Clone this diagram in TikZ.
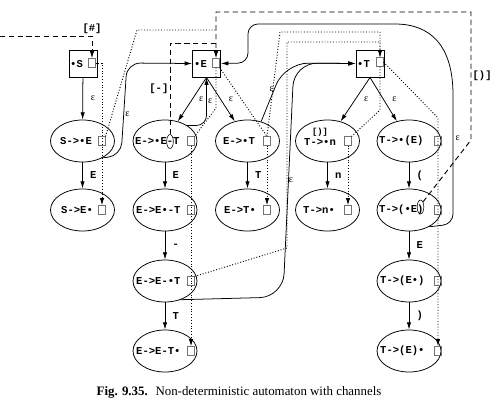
\documentclass[tikz,border=0pt]{standalone}
\usepackage{fontspec}
\setmainfont{Liberation Serif}
\setmonofont{Liberation Mono}
\usepackage{tikz}
\usetikzlibrary{arrows.meta,positioning,calc,shapes.geometric}

\begin{document}
\begin{tikzpicture}[x=0.3mm,y=-0.3mm,>={Latex[length=2.2mm,width=1.3mm]},
  trans/.style={->,line width=0.65pt},
  flow/.style={line width=0.8pt,dash pattern=on 0.8pt off 1.6pt},
  look/.style={line width=0.8pt,dash pattern=on 4.5pt off 3pt},
  box/.style={draw,line width=0.8pt,minimum width=8.4mm,minimum height=8.1mm,inner sep=0pt},
  item/.style={ellipse,draw,line width=0.65pt,minimum width=19.2mm,minimum height=12.6mm,inner sep=0pt},
  chan/.style={draw=black!55,line width=0.4pt,minimum width=2mm,minimum height=2.6mm,inner sep=0pt},
  ring/.style={ellipse,draw,line width=0.5pt,minimum width=2mm,minimum height=4.2mm,inner sep=0pt},
  itxt/.style={anchor=west,inner sep=0pt,font=\ttfamily\bfseries\fontsize{9}{10}\selectfont},
  lab/.style={font=\ttfamily\bfseries\fontsize{9}{10}\selectfont,inner sep=1pt},
  eps/.style={font=\fontsize{8.5}{9}\selectfont,inner sep=1pt}]
\useasboundingbox (0,0) rectangle (500,412);
% boxes for the non-terminals
\node[box] (bS) at (83,63.5) {};
\node[box] (bE) at (206.5,63.5) {};
\node[box] (bT) at (370,63.5) {};
\node[itxt] (tS) at (70,64) {•S};
\node[itxt] (tE) at (194,64) {•E};
\node[itxt] (tT) at (357,64) {•T};
\node[chan] (cS) at (92,63) {};
\node[chan] (cE) at (216,63) {};
\node[chan] (cT) at (380,62) {};
% items
\node[item] (s1) at (82.5,141) {};
\node[item] (s2) at (82.5,210) {};
\node[item] (e1) at (165,141) {};
\node[item] (e2) at (165,210) {};
\node[item] (e3) at (165,281) {};
\node[item] (e4) at (165,351) {};
\node[item] (f1) at (247.5,141) {};
\node[item] (f2) at (247.5,210) {};
\node[item] (n1) at (327.5,141) {};
\node[item] (n2) at (327.5,210) {};
\node[item] (p1) at (409,141) {};
\node[item] (p2) at (409,210) {};
\node[item] (p3) at (409,281) {};
\node[item] (p4) at (409,351) {};
\node[itxt] (ts1) at (60,141) {S->•E};
\node[itxt] (ts2) at (61,210) {S->E•};
\node[itxt] (te1) at (135,141) {E->•E-T};
\node[itxt] (te2) at (136,210) {E->E•-T};
\node[itxt] (te3) at (136,281) {E->E-•T};
\node[itxt] (te4) at (136,351) {E->E-T•};
\node[itxt] (tf1) at (223,141) {E->•T};
\node[itxt] (tf2) at (224,210) {E->T•};
\node[itxt] (tn1) at (304,142) {T->•n};
\node[itxt] (tn2) at (303,210) {T->n•};
\node[itxt] (tp1) at (379,141) {T->•(E)};
\node[itxt] (tp2) at (379,210) {T->(•E)};
\node[itxt] (tp3) at (380,281) {T->(E•)};
\node[itxt] (tp4) at (380,351) {T->(E)•};
\node[ring] (r1) at (170,141.5) {};
\node[ring] (r2) at (420.5,207) {};
\node[lab,font=\ttfamily\bfseries\fontsize{7.5}{8}\selectfont] (rn) at (320,132) {[)]};
% channel squares
\node[chan] (cs1) at (102,141) {};
\node[chan] (cs2) at (102,210) {};
\node[chan] (ce1) at (191,141) {};
\node[chan] (ce2) at (191,210) {};
\node[chan] (ce3) at (191,281) {};
\node[chan] (ce4) at (191,351) {};
\node[chan] (cf1) at (267,141) {};
\node[chan] (cf2) at (267,210) {};
\node[chan] (cn1) at (348,141) {};
\node[chan] (cn2) at (348,210) {};
\node[chan] (cp1) at (438,141) {};
\node[chan] (cp2) at (438,210) {};
\node[chan] (cp3) at (438,281) {};
\node[chan] (cp4) at (438,351) {};
% moves along the items
\draw[trans] (s1) -- node[lab,right=1.8mm]{E} (s2);
\draw[trans] (e1) -- node[lab,right=1.8mm]{E} (e2);
\draw[trans] (e2) -- node[lab,right=1.8mm]{-} (e3);
\draw[trans] (e3) -- node[lab,right=1.8mm]{T} (e4);
\draw[trans] (f1) -- node[lab,right=1.8mm]{T} (f2);
\draw[trans] (n1) -- node[lab,right=1.8mm]{n} (n2);
\draw[trans] (p1) -- node[lab,right=1.8mm]{(} (p2);
\draw[trans] (p2) -- node[lab,right=1.8mm]{E} (p3);
\draw[trans] (p3) -- node[lab,right=1.8mm]{)} (p4);
% epsilon moves
\draw[trans] (bS) -- node[eps,right=2mm]{ε} (s1);
\draw[trans] (bE.south) -- node[eps,right=1.6mm]{ε} (e1);
\draw[trans] (bE.south) -- node[eps,right=2mm]{ε} (f1);
\draw[trans] (bT.south) -- node[eps,right=2.2mm]{ε} (n1);
\draw[trans] (bT.south) -- node[eps,right=2.2mm]{ε} (p1);
\draw[trans,rounded corners=3mm] (e1.35) -| node[eps,pos=0.75,right]{ε} (bE.south);
\draw[trans,rounded corners=4mm] (s1.-40) -- (121,156) -- node[eps,pos=0.45,right]{ε} (127,63) -- (bE.west);
\draw[trans,rounded corners=7mm] (f1.55) -- node[eps,pos=0.55,left=-1pt]{ε} (285,63) -- (bT.west);
\draw[trans,rounded corners=7mm] (e3.-50) -- (283,297) -- node[eps,pos=0.5,right=-1pt]{ε} (294,63) -- (bT.west);
\draw[trans,rounded corners=3mm] (p2.-40) -- (453,224) -- node[eps,pos=0.72,right=1pt]{ε} (453,105)
  .. controls (453,45) and (430,24) .. (385,24) -- (248,24) -- (248,63) -- (bE.east);
% look-ahead sets
\coordinate (hin) at (0,36);
\coordinate (jA) at (216,30);
\coordinate (jB) at (216,43);
\draw[look,->] (hin) -| node[lab,pos=0.5,above=1pt]{[\#]} (cS.north);
\draw[look] (r1.north) |- node[lab,pos=0.25,left]{[-]} (jB);
\draw[look,->] (r2.north east) -- (471,140) -- node[lab,pos=0.5,right]{[)]} (471,12) -| (cE.north);
% channels
\draw[flow,->] (cS.east) -| (cs2.north);
\draw[flow] (cs1.north east) -- (137,30) -- (jA);
\draw[flow] (cE.south) -- (216,108) -- (ce1.north east);
\draw[flow,->] (ce1.south) -- (ce4.north);
\draw[flow] (cE.south east) -- (cf1.north);
\draw[flow,->] (cf1.south) -- (cf2.north);
\draw[flow,->] (cf1.north) -- (280,32) -| (cT.north);
\draw[flow,->] (ce3.north east) -- (287,248) -- (287,42) -| (cT.north);
\draw[flow] (cT.south) -- (380,110) -- (cn1.north east);
\draw[flow,->] (cn1.south) -- (cn2.north);
\draw[flow,->] (cT.east) -- (438,118) -- (cp4.north);
% caption
\node[font=\fontsize{11}{13}\selectfont] (cap) at (239,392)
  {\textbf{Fig. 9.35.}\hspace{0.6em}Non-deterministic automaton with channels};
\end{tikzpicture}
\end{document}
